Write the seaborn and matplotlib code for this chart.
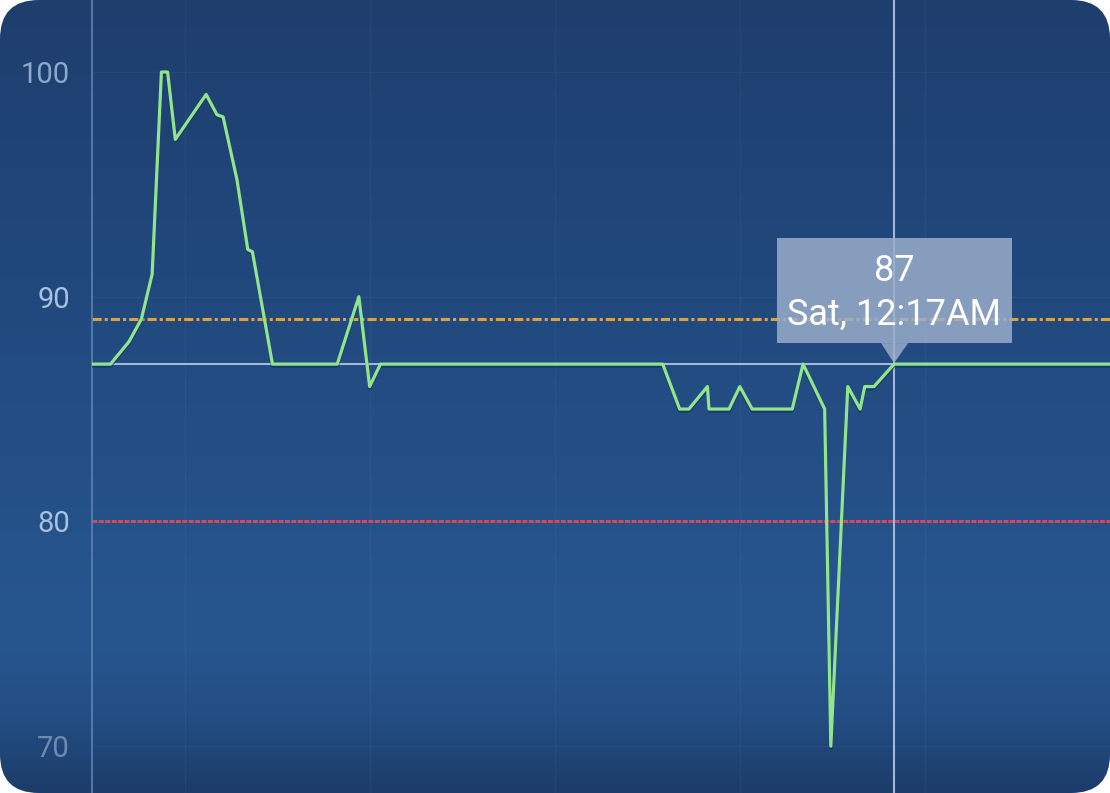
import numpy as np
import pandas as pd
import matplotlib
matplotlib.use("Agg")
import matplotlib.pyplot as plt
import matplotlib.patheffects as pe
from matplotlib.patches import FancyBboxPatch, Rectangle, Polygon
from matplotlib.transforms import IdentityTransform
import seaborn as sns

# minutes from the left edge of the chart, and the reading at that time
minutes = [0, 6, 12, 16, 19.5, 22.5, 24.5, 27, 32, 37, 40.5, 42.5, 47, 50.5, 52, 58.5,
           79.5, 86.5, 90, 93.5, 185, 190.5, 193.5, 199.5, 200, 206.5, 210, 214,
           227, 230.5, 237.5, 239.5, 245, 249, 250.5, 253.5, 260, 330]
values = [87, 87, 88, 89, 91, 100, 100, 97, 98, 99, 98.1, 98, 95.2, 92.1, 92, 87,
          87, 90, 86, 87, 87, 85, 85, 86, 85, 85, 86, 85,
          85, 87, 85, 70, 86, 85, 86, 86, 87, 87]

upper_limit = 89
lower_limit = 80
sel_minute = 260
sel_value = 87
sel_label = "Sat, 12:17AM"

ytick_vals = [70, 80, 90, 100]
ytick_colors = ["#6e8ab0", "#a9c0de", "#a9c0de", "#8ea8cb"]
grid_minutes = [30, 90, 150, 210, 270]

df = pd.DataFrame({"minute": minutes, "value": values})

sns.set_style("white")
plt.rcParams["font.family"] = ["Roboto", "DejaVu Sans"]

W, H = 1110, 793
fig = plt.figure(figsize=(W / 100, H / 100), dpi=100)
fig.patch.set_facecolor("white")

# background card with gradient and rounded corners
bg = fig.add_axes([0, 0, 1, 1])
bg.set_axis_off()
stops = [0, 0.35, 0.8, 0.9, 1.0]
r = np.interp(np.linspace(0, 1, H), stops, [30, 33, 39, 35, 28])
g = np.interp(np.linspace(0, 1, H), stops, [62, 72, 86, 78, 60])
b = np.interp(np.linspace(0, 1, H), stops, [110, 125, 143, 132, 105])
grad = np.stack([r, g, b], axis=1)[:, None, :] / 255.0
grad = np.repeat(grad, 4, axis=1)
im = bg.imshow(grad, aspect="auto", extent=[0, 1, 0, 1], origin="upper")
bg.set_xlim(0, 1)
bg.set_ylim(0, 1)
card = FancyBboxPatch((0, 0), 1, 1, boxstyle="round,pad=0,rounding_size=0.035",
                      mutation_aspect=W / H, transform=bg.transAxes,
                      facecolor="none", edgecolor="none")
bg.add_patch(card)
im.set_clip_path(card)

# main chart
ax = fig.add_axes([92 / W, 0, 1 - 92 / W, 1])
ax.patch.set_alpha(0)
ax.set_xlim(0, 330)
ax.set_ylim(100 - 721 / 22.47, 100 + 72 / 22.47)

ax.set_xticks(grid_minutes)
ax.set_xticklabels([])
ax.set_yticks(ytick_vals)
ax.set_yticklabels([str(v) for v in ytick_vals], fontsize=21)
for lab, c in zip(ax.get_yticklabels(), ytick_colors):
    lab.set_color(c)
ax.tick_params(axis="both", length=0)
ax.tick_params(axis="y", pad=16)
ax.grid(True, color="white", alpha=0.035, lw=1)

for s in ["top", "right", "bottom"]:
    ax.spines[s].set_visible(False)
ax.spines["left"].set_color("#5c82b5")
ax.spines["left"].set_linewidth(1.2)

ax.axhline(upper_limit, color="#dca234", lw=2.2, ls=(0, (3, 1, 1, 1)), zorder=2)
ax.axhline(lower_limit, color="#d4475e", lw=2.2, ls=(0, (1.6, 0.5)), zorder=2)

# crosshair
ax.axhline(sel_value, color="#a3b8d6", lw=1.5, zorder=2)
ax.axvline(sel_minute, color="#a3b8d6", lw=1.5, zorder=2)

sns.lineplot(data=df, x="minute", y="value", ax=ax, color="#92e58c", lw=2.3,
             zorder=4, estimator=None, sort=False,
             path_effects=[pe.SimpleLineShadow(offset=(0, -1.5), shadow_color="#13305e", alpha=0.6),
                           pe.Normal()])
ax.set_xlabel("")
ax.set_ylabel("")

# tooltip
px, py = ax.transData.transform((sel_minute, sel_value))
box = Rectangle((px - 117, py + 21), 235, 105, transform=IdentityTransform(),
                facecolor="#9aadca", alpha=0.85, edgecolor="none", zorder=6)
ax.add_patch(box)
tri = Polygon([(px - 13, py + 21), (px + 14, py + 21), (px, py + 1)], closed=True,
              transform=IdentityTransform(), facecolor="#9aadca", alpha=0.85,
              edgecolor="none", zorder=6)
ax.add_patch(tri)
ax.annotate(str(sel_value), (sel_minute, sel_value), xytext=(0, 93),
            textcoords="offset pixels", ha="center", va="center",
            color="white", fontsize=26, zorder=7)
ax.annotate(sel_label, (sel_minute, sel_value), xytext=(0, 49),
            textcoords="offset pixels", ha="center", va="center",
            color="white", fontsize=26, zorder=7)

fig.savefig("out.png", dpi=100)
